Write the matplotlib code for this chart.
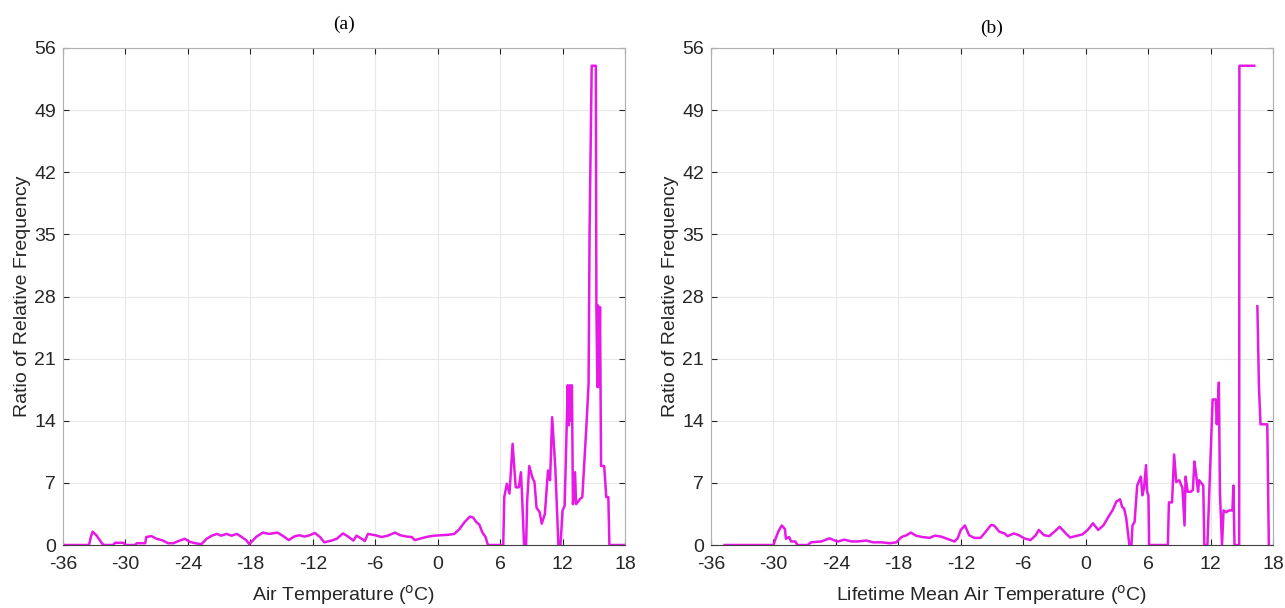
import numpy as np
import matplotlib
matplotlib.use("Agg")
import matplotlib.pyplot as plt

plt.rcParams.update({"font.family": "Liberation Sans", "font.size": 13,
                     "axes.unicode_minus": False})

# ---- (a) air temperature ----
a_temp = [-36.0, -33.5, -33.3, -33.15, -32.8, -32.5, -32.2, -32.0, -31.2, -31.0,
          -30.2, -30.0, -29.1, -28.9, -28.1, -28.0, -27.5, -27.0, -26.4, -25.9,
          -25.4, -25.0, -24.3, -23.8, -23.3, -22.7, -22.2, -21.7, -21.2, -20.8,
          -20.3, -19.8, -19.3, -18.9, -18.4, -18.1, -17.4, -16.8, -16.2, -15.7,
          -15.4, -14.9, -14.3, -13.8, -13.3, -12.8, -12.3, -11.8, -11.3, -10.9,
          -10.2, -9.7, -9.1, -8.6, -8.1, -7.8, -7.3, -7.0, -6.7, -6.0,
          -5.4, -4.8, -4.1, -3.6, -3.0, -2.5, -2.2, -1.6, -0.9, -0.3,
          0.3, 1.0, 1.6, 2.1, 2.6, 3.1, 3.4, 3.7, 4.0, 4.3,
          4.6, 4.8, 4.9, 6.3, 6.4, 6.65, 6.9, 7.2, 7.5, 7.8,
          8.0, 8.1, 8.3, 8.5, 8.6, 8.8, 9.1, 9.3, 9.5, 9.8,
          10.0, 10.3, 10.6, 10.8, 11.0, 11.3, 11.5, 11.6, 11.8, 12.0,
          12.2, 12.4, 12.5, 12.6, 12.7, 12.8, 12.9, 13.0, 13.2, 13.3,
          13.7, 13.9, 14.3, 14.5, 14.6, 14.8, 15.2, 15.25, 15.35, 15.4,
          15.5, 15.6, 15.7, 16.0, 16.2, 16.4, 16.5, 18.0]
a_ratio = [0, 0, 1.0, 1.5, 1.1, 0.6, 0.1, 0, 0, 0.25,
           0.25, 0, 0, 0.2, 0.2, 0.9, 1.0, 0.7, 0.5, 0.2,
           0.2, 0.4, 0.7, 0.35, 0.2, 0.1, 0.7, 1.05, 1.25, 1.05,
           1.25, 1.05, 1.25, 0.95, 0.55, 0.1, 0.95, 1.4, 1.25, 1.35,
           1.4, 1.05, 0.55, 0.95, 1.1, 0.95, 1.1, 1.35, 0.9, 0.3,
           0.5, 0.7, 1.3, 0.95, 0.5, 1.05, 0.7, 0.45, 1.25, 1.1,
           0.9, 1.05, 1.4, 1.1, 0.95, 0.9, 0.55, 0.75, 0.95, 1.05,
           1.1, 1.15, 1.25, 1.8, 2.6, 3.2, 3.1, 2.6, 2.3, 1.4,
           0.9, 0.1, 0, 0, 5.4, 6.9, 5.8, 11.4, 6.5, 6.5,
           8.2, 5.8, 0, 0, 5.0, 8.9, 7.6, 7.1, 4.2, 3.7,
           2.4, 3.5, 8.4, 7.3, 14.4, 8.8, 3.1, 0, 0, 3.9,
           4.4, 13.3, 18.0, 13.5, 18.0, 14.0, 18.0, 4.6, 8.2, 4.6,
           5.2, 5.4, 13.6, 18.2, 35.8, 54.0, 54.0, 27.0, 17.8, 27.0,
           17.8, 26.8, 8.9, 8.9, 5.4, 5.4, 0, 0]

# ---- (b) lifetime mean air temperature (nan = gap in the curve) ----
b_temp = [-34.7, -30.0, -29.8, -29.5, -29.2, -28.9, -28.8, -28.5, -28.3, -27.9,
          -27.7, -26.7, -26.4, -25.4, -24.6, -24.1, -23.8, -23.2, -22.5, -21.9,
          -21.1, -20.4, -19.6, -18.8, -18.2, -17.7, -17.2, -16.8, -16.3, -15.7,
          -15.0, -14.5, -13.9, -13.2, -12.6, -12.3, -12.0, -11.6, -11.2, -10.7,
          -10.1, -9.6, -9.1, -8.8, -8.3, -7.8, -7.5, -6.9, -6.4, -5.9,
          -5.3, -4.8, -4.5, -4.0, -3.5, -3.0, -2.5, -1.9, -1.5, -0.8,
          -0.3, 0.2, 0.7, 1.2, 1.7, 2.2, 2.6, 2.95, 3.3, 3.5,
          3.7, 3.9, 4.05, 4.2, 4.4, 4.5, 4.7, 4.95, 5.3, 5.45,
          5.6, 5.8, 5.9, 6.03, 6.1, 7.9, 8.0, 8.3, 8.5, 8.7,
          9.0, 9.3, 9.5, 9.6, 9.8, 10.1, 10.3, 10.45, 10.6, 10.8,
          10.9, 11.3, 11.4, 11.7, 11.9, 12.2, 12.5, 12.6, 12.8, 12.9,
          13.1, 13.25, 13.5, 13.8, 14.1, 14.2, 14.3, 14.75, 14.77, 16.2,
          16.3, 16.5, 16.65, 16.8, 17.45, 17.6]
b_ratio = [0, 0, 0.7, 1.6, 2.2, 1.8, 0.7, 0.9, 0.4, 0.4,
           0, 0, 0.3, 0.4, 0.75, 0.5, 0.4, 0.6, 0.4, 0.4,
           0.5, 0.3, 0.3, 0.2, 0.3, 0.9, 1.1, 1.4, 1.05, 0.9,
           0.8, 1.05, 0.95, 0.65, 0.4, 0.75, 1.7, 2.2, 1.1, 0.8,
           0.8, 1.5, 2.25, 2.2, 1.5, 1.3, 1.0, 1.3, 1.1, 0.75,
           0.55, 1.1, 1.7, 1.1, 1.0, 1.5, 2.05, 1.3, 0.85, 1.05,
           1.2, 1.7, 2.45, 1.7, 2.2, 3.2, 3.95, 4.9, 5.15, 4.3,
           4.1, 3.0, 1.5, 0, 0, 2.2, 2.6, 6.7, 7.7, 5.6,
           6.4, 9.0, 6.0, 5.6, 0, 0, 4.8, 4.8, 10.2, 7.1,
           7.3, 6.4, 2.2, 7.7, 6.0, 6.0, 6.2, 9.4, 8.1, 6.0,
           7.3, 6.7, 0, 0, 6.7, 16.4, 16.4, 13.6, 18.3, 6.0,
           0, 3.9, 3.7, 3.9, 3.9, 6.7, 0, 0, 54.0, 54.0,
           np.nan, 26.9, 17.8, 13.6, 13.6, 0]

xticks = np.arange(-36, 19, 6)
yticks = np.arange(0, 57, 7)
panels = [("(a)", "Air Temperature ($^{\\rm o}$C)", a_temp, a_ratio, 14),
          ("(b)", "Lifetime Mean Air Temperature ($^{\\rm o}$C)", b_temp, b_ratio, 11)]

fig = plt.figure(figsize=(12.85, 6.08), dpi=100)
lefts = [63 / 1285, 711 / 1285]
for (title, xlabel, xs, ys, pad), left in zip(panels, lefts):
    ax = fig.add_axes([left, 63 / 608, 562 / 1285, 497 / 608])
    ax.plot(xs, ys, color="#e619e6", lw=1.8)
    ax.set_xlim(-36, 18)
    ax.set_ylim(0, 56)
    ax.set_xticks(xticks)
    ax.set_yticks(yticks)
    ax.grid(True, color="#e8e8e8", lw=0.8)
    ax.set_axisbelow(True)
    ax.tick_params(direction="in", length=4, top=True, right=True,
                   color="#262626", labelcolor="#262626", labelsize=14)
    ax.tick_params(axis="x", pad=8)
    ax.tick_params(axis="y", pad=5)
    for side in ["top", "right", "left"]:
        ax.spines[side].set_color("#b0b0b0")
    ax.spines["bottom"].set_color("#404040")
    ax.set_xlabel(xlabel, fontsize=14, color="#262626", labelpad=7)
    ax.set_ylabel("Ratio of Relative Frequency", fontsize=14, color="#262626",
                  labelpad=2)
    ax.set_title(title, family="Liberation Serif", fontsize=14, pad=pad)

fig.savefig("out.png", dpi=100)
